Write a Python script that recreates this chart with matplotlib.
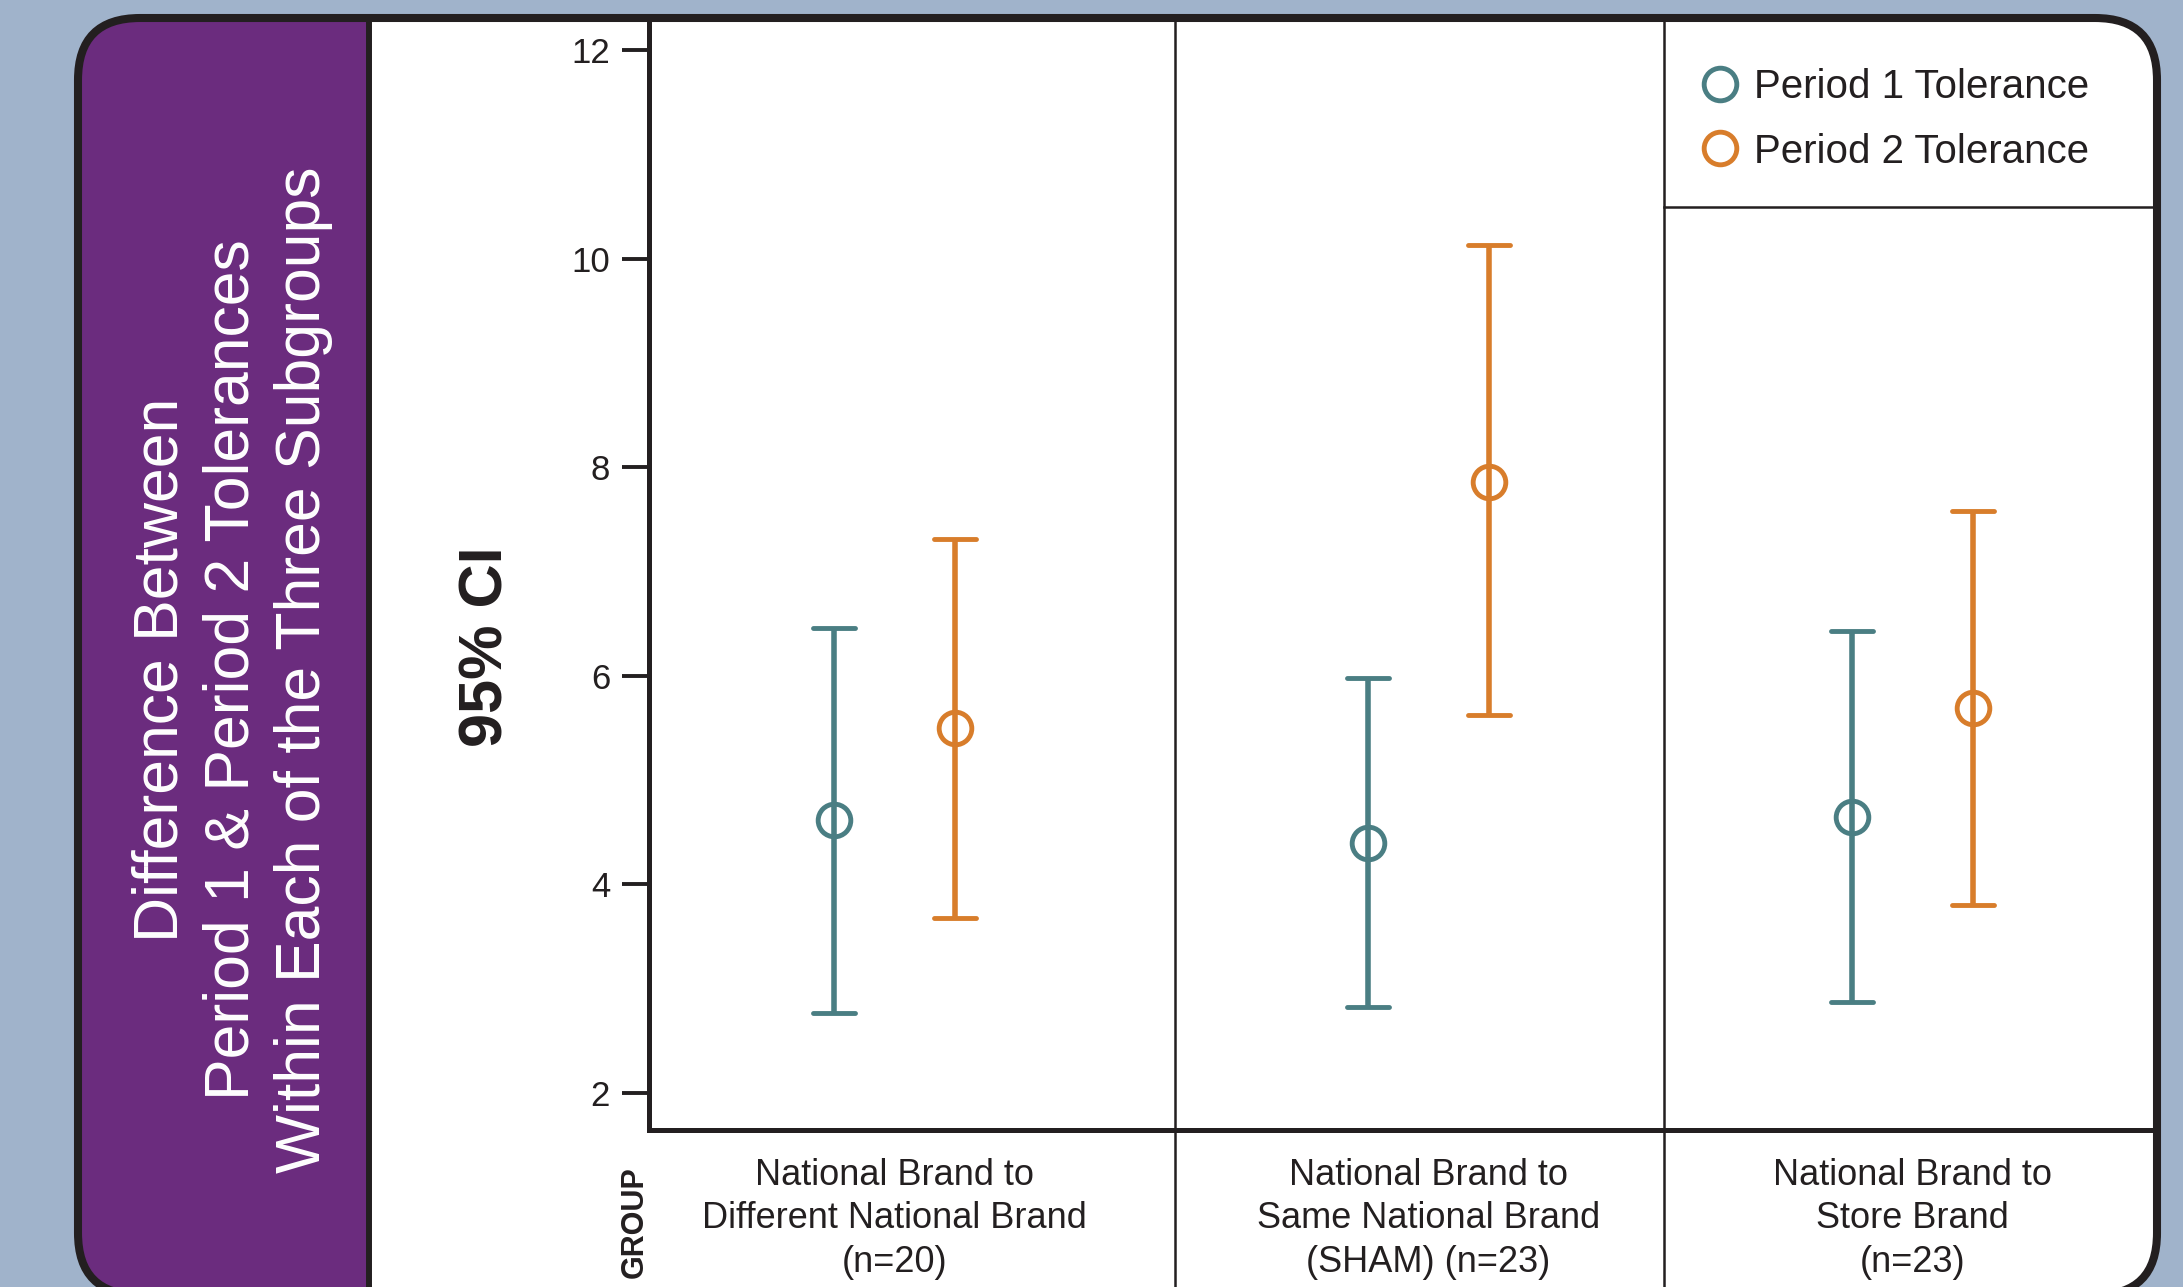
import matplotlib
matplotlib.use("Agg")
import matplotlib.pyplot as plt
import matplotlib.transforms as mtransforms
from matplotlib.patches import FancyBboxPatch, Rectangle
from matplotlib.lines import Line2D
from matplotlib.markers import MarkerStyle

# subgroup labels and 95% CI values (mean, lower, upper)
groups = [
    "National Brand to\nDifferent National Brand\n(n=20)",
    "National Brand to\nSame National Brand\n(SHAM) (n=23)",
    "National Brand to\nStore Brand\n(n=23)",
]
period1_mean = [4.62, 4.40, 4.65]
period1_low = [2.77, 2.82, 2.87]
period1_high = [6.46, 5.98, 6.43]
period2_mean = [5.50, 7.86, 5.69]
period2_low = [3.68, 5.62, 3.80]
period2_high = [7.31, 10.13, 7.58]
series_labels = ["Period 1 Tolerance", "Period 2 Tolerance"]
y_ticks = [2, 4, 6, 8, 10, 12]
side_title = ["Difference Between",
              "Period 1 & Period 2 Tolerances",
              "Within Each of the Three Subgroups"]

W, H, DPI = 2183, 1287, 100
BG = "#A0B3CB"
PURPLE = "#6B2C7E"
INK = "#231F20"
TEAL = "#4A7E83"
ORANGE = "#D87D2B"

# layout of the x axis (data units)
group_pos = [0.49, 1.555, 2.52]
offset = 0.12
dividers = [1.05, 2.025]

plt.rcParams["font.family"] = ["Liberation Sans", "DejaVu Sans"]

fig = plt.figure(figsize=(W / DPI, H / DPI), dpi=DPI, facecolor=BG)


def py(y):
    # pixel row (from the top) -> page units (from the bottom)
    return H - y


# card and side panel, drawn in pixel units
bg = fig.add_axes([0, 0, 1, 1], zorder=0)
bg.set_xlim(0, W)
bg.set_ylim(0, H)
bg.axis("off")

card_left, card_right, card_top, card_bottom = 78, 2157, 18, 1295
card_box = dict(boxstyle="round,pad=0,rounding_size=62")
card = FancyBboxPatch((card_left, py(card_bottom)), card_right - card_left,
                      card_bottom - card_top, fc="white", ec="none", **card_box)
bg.add_patch(card)
side = Rectangle((60, -20), 369 - 60, H + 40, fc=PURPLE, ec="none")
bg.add_patch(side)
side.set_clip_path(card)
bg.add_patch(FancyBboxPatch((card_left, py(card_bottom)), card_right - card_left,
                            card_bottom - card_top, fc="none", ec=INK, lw=5.8,
                            **card_box))
bg.plot([369, 369], [py(card_top), py(card_bottom)], color=INK, lw=4.3,
        solid_capstyle="butt")

for x, line in zip([161, 232, 304], side_title):
    bg.text(x, py(670), line, rotation=90, ha="center", va="center", color="white",
            fontsize=45)

bg.text(487, py(647), "95% CI", rotation=90, ha="center", va="center", color=INK,
        fontsize=44, fontweight="bold")
bg.text(635, py(1222), "GROUP", rotation=90, ha="center", va="center", color=INK,
        fontsize=22, fontweight="bold")

# main plot
ax = fig.add_axes([649 / W, (H - 1130) / H, (2153 - 649) / W, (1130 - 22) / H], zorder=2)
ax.patch.set_alpha(0)
ax.set_xlim(0, 3)
ax.set_ylim(1.645, 12.27)

series = [
    (period1_mean, period1_low, period1_high, TEAL, -offset),
    (period2_mean, period2_low, period2_high, ORANGE, offset),
]
handles = []
for mean, low, high, color, dx in series:
    xs = [g + dx for g in group_pos]
    yerr = [[m - lo for m, lo in zip(mean, low)], [hi - m for m, hi in zip(mean, high)]]
    eb = ax.errorbar(xs, mean, yerr=yerr, fmt="o", color=color, ecolor=color,
                     elinewidth=4.0, capsize=15, capthick=4.0, ms=23.5, mew=3.5,
                     mfc="none", mec=color, zorder=3)
    for cap in eb.lines[1]:
        cap.set_marker(MarkerStyle("_", capstyle="round"))
    handles.append(Line2D([], [], marker="o", ls="none", ms=23.5, mew=3.5,
                          mfc="none", mec=color))

for s in ["top", "right"]:
    ax.spines[s].set_visible(False)
for s in ["left", "bottom"]:
    ax.spines[s].set_linewidth(3.6)
    ax.spines[s].set_color(INK)

ax.set_yticks(y_ticks)
ax.tick_params(axis="y", length=19.4, width=2.8, pad=8.6, labelsize=25,
               color=INK, labelcolor=INK)
ax.set_xticks(group_pos, labels=groups)
ax.tick_params(axis="x", length=0, pad=20, labelsize=26, labelcolor=INK)
for lbl in ax.get_xticklabels():
    lbl.set_linespacing(1.32)

for xd in dividers:
    ax.axvline(xd, ymin=-0.2, ymax=1, color=INK, lw=1.8, clip_on=False)

blend = mtransforms.blended_transform_factory(ax.transData, ax.transAxes)
ax.plot([dividers[1], 3], [0.833, 0.833], transform=blend, color=INK, lw=1.8,
        clip_on=False)

ax.legend(handles, series_labels, loc="upper left",
          bbox_to_anchor=(1699 / W, 1 - 68 / H), bbox_transform=fig.transFigure,
          frameon=False, fontsize=29, handlelength=1.05, handletextpad=0.32,
          labelspacing=0.66, borderpad=0, borderaxespad=0, labelcolor=INK)

fig.savefig("out.png", dpi=DPI, facecolor=BG)
